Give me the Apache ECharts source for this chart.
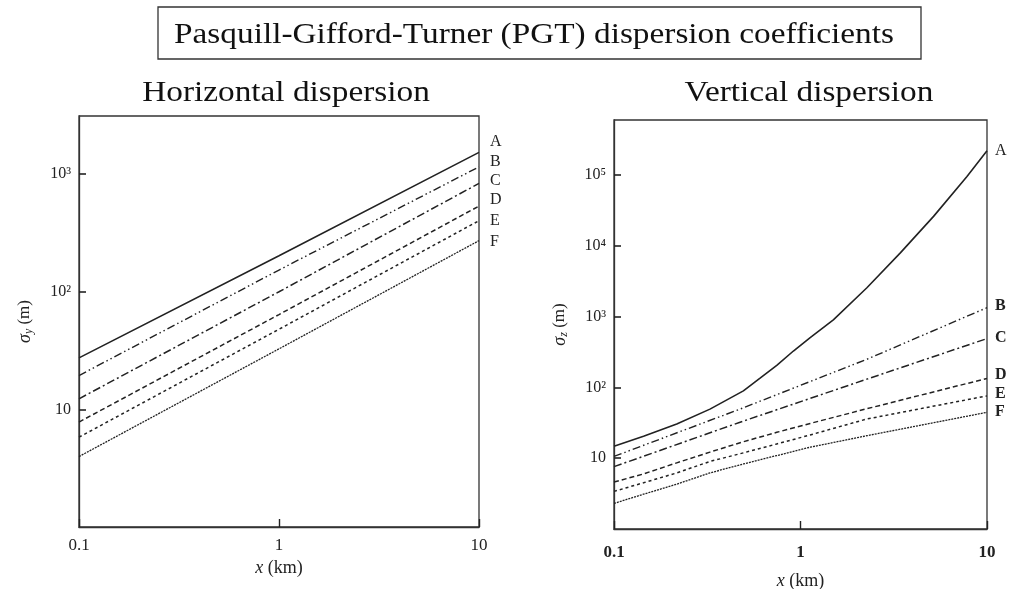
<!DOCTYPE html>
<html>
<head>
<meta charset="utf-8">
<script src="https://cdn.jsdelivr.net/npm/echarts@6/dist/echarts.min.js"></script>
<style>
html,body{margin:0;padding:0;background:#fff;}
#chart{width:1023px;height:589px;}
</style>
</head>
<body>
<div id="chart"></div>
<script>
// ---- data ----
const classes = ['A', 'B', 'C', 'D', 'E', 'F'];
const xTickLabels = ['0.1', '1', '10'];
const mainTitle = 'Pasquill-Gifford-Turner (PGT) dispersion coefficients';
const panelTitles = ['Horizontal dispersion', 'Vertical dispersion'];

// Horizontal dispersion sigma_y (m) vs x (km)
const hX = [0.1, 1, 10];
const hA = [27.4, 202, 1530];
const hB = [19.4, 153, 1153];
const hC = [12.3, 100, 834];
const hD = [7.8, 64, 535];
const hE = [5.8, 48, 402];
const hF = [3.97, 32.7, 272];

// Vertical dispersion sigma_z (m) vs x (km)
const vXA = [0.1, 0.144, 0.217, 0.327, 0.494, 0.607, 0.746, 0.916, 1.127, 1.5, 2.27, 3.43, 5.17, 7.81, 10];
const vA = [14.8, 20.4, 30.4, 49.4, 89.5, 135, 205, 327, 506, 900, 2560, 7960, 26100, 95500, 220000];
const vXBC = [0.1, 0.47, 2.27, 10];
const vB = [10.6, 49, 250, 1340];
const vC = [7.6, 32, 131, 490];
const vXDEF = [0.1, 0.144, 0.217, 0.327, 0.494, 0.746, 1.127, 2.27, 10];
const vD = [4.6, 6.0, 8.6, 12.2, 17.1, 23.2, 31, 50, 134];
const vE = [3.4, 4.5, 6.2, 9.0, 11.9, 15.9, 21.3, 35.8, 76];
const vF = [2.3, 3.1, 4.3, 6.2, 8.3, 10.9, 14.3, 20.8, 44.5];

// ---- styles ----
const FONT = '"Liberation Serif", "DejaVu Serif", serif';
const INK = '#222';
const dashes = {
  A: 'solid',
  B: [8, 3, 1.5, 3, 1.5, 3],
  C: [8, 3, 2, 3],
  D: [5, 3],
  E: [3, 3],
  F: [2, 1]
};
const widths = {A: 1.6, B: 1.4, C: 1.5, D: 1.5, E: 1.5, F: 1.3};
const hLabelOffset = {A: -11, B: -5, C: -3, D: -6, E: 0, F: 1};
const vLabelOffset = {A: 0, B: -2, C: -1, D: -4, E: -2, F: 0};

const supMap = {2: '\u00B2', 3: '\u00B3', 4: '\u2074', 5: '\u2075'};
function yFmt(v) {
  const l = Math.log10(v);
  const n = Math.round(l);
  if (Math.abs(l - n) > 0.01) return '';
  if (n <= 0) return '';
  if (n === 1) return '10';
  return '10' + supMap[n];
}
function xFmt(v) {
  const l = Math.log10(v);
  const n = Math.round(l);
  if (Math.abs(l - n) > 0.01) return '';
  return xTickLabels[n + 1] || '';
}

function pairs(xs, ys) { return xs.map((x, i) => [x, ys[i]]); }

const hData = {A: hA, B: hB, C: hC, D: hD, E: hE, F: hF};
const vData = {A: vA, B: vB, C: vC, D: vD, E: vE, F: vF};
const vXs = {A: vXA, B: vXBC, C: vXBC, D: vXDEF, E: vXDEF, F: vXDEF};

const series = [];
classes.forEach(c => {
  series.push({
    name: c, type: 'line', xAxisIndex: 0, yAxisIndex: 0,
    data: pairs(hX, hData[c]), showSymbol: false, symbol: 'none',
    lineStyle: {color: INK, width: widths[c], type: dashes[c]},
    endLabel: {show: true, formatter: c, distance: 11, offset: [0, hLabelOffset[c]],
      fontFamily: FONT, fontSize: 16, color: '#222'},
    silent: true, animation: false
  });
});
classes.forEach(c => {
  series.push({
    name: c + '_v', type: 'line', xAxisIndex: 1, yAxisIndex: 1,
    data: pairs(vXs[c], vData[c]), showSymbol: false, symbol: 'none',
    smooth: false,
    lineStyle: {color: INK, width: widths[c], type: dashes[c]},
    endLabel: {show: true, formatter: c, distance: 8, offset: [0, vLabelOffset[c]],
      fontFamily: FONT, fontSize: 16, fontWeight: c === 'A' ? 'normal' : 'bold', color: '#222'},
    silent: true, animation: false
  });
});

function xAxisCfg(gi, bold, nameGap, margin) {
  return {
    type: 'log', logBase: 10, min: 0.1, max: 10, gridIndex: gi,
    name: '{i|x} (km)', nameLocation: 'middle', nameGap: nameGap,
    nameTextStyle: {fontFamily: FONT, fontSize: 18, color: '#222',
      rich: {i: {fontStyle: 'italic', fontFamily: FONT, fontSize: 18, color: '#222'}}},
    axisLine: {show: true, lineStyle: {color: '#333', width: 1.3}},
    axisTick: {show: true, inside: true, length: 8, lineStyle: {color: '#222', width: 1.4}},
    minorTick: {show: false},
    splitLine: {show: false},
    axisLabel: {formatter: xFmt, fontFamily: FONT, fontSize: 17, color: '#222', margin: margin,
      fontWeight: bold ? 'bold' : 'normal'}
  };
}
function yAxisCfg(gi, max, sub) {
  return {
    type: 'log', logBase: 10, min: 1, max: max, gridIndex: gi,
    name: '{i|\u03C3}{s|' + sub + '} (m)', nameLocation: 'middle', nameGap: 44,
    nameTextStyle: {fontFamily: FONT, fontSize: 17, color: '#222',
      rich: {
        i: {fontStyle: 'italic', fontFamily: FONT, fontSize: 18, color: '#222'},
        s: {fontStyle: 'italic', fontFamily: FONT, fontSize: 12, color: '#222', padding: [8, 0, 0, 0]}
      }},
    axisLine: {show: true, lineStyle: {color: '#333', width: 1.3}},
    axisTick: {show: true, inside: true, length: 7, lineStyle: {color: '#222', width: 1.6}},
    minorTick: {show: false},
    splitLine: {show: false},
    axisLabel: {formatter: yFmt, fontFamily: FONT, fontSize: 16, color: '#222', margin: 8,
      showMinLabel: false, showMaxLabel: false}
  };
}

function headText(text, x, y) {
  return {
    type: 'text', x: x, y: y, scaleX: 1.11, silent: true,
    style: {text: text, font: '30px ' + FONT, fill: '#111', textAlign: 'center', textVerticalAlign: 'middle'}
  };
}

const option = {
  backgroundColor: '#fff',
  animation: false,
  graphic: [
    {type: 'rect', silent: true, shape: {x: 158, y: 7, width: 763, height: 52},
      style: {fill: 'none', stroke: '#333', lineWidth: 1.3}},
    headText(mainTitle, 534, 35),
    headText(panelTitles[0], 286, 93),
    headText(panelTitles[1], 809, 93)
  ],
  grid: [
    {left: 79, top: 116, width: 400, height: 411, show: true, borderColor: '#333', borderWidth: 1.3,
      backgroundColor: 'transparent', containLabel: false, outerBoundsMode: 'none'},
    {left: 614, top: 120, width: 373, height: 409, show: true, borderColor: '#333', borderWidth: 1.3,
      backgroundColor: 'transparent', containLabel: false, outerBoundsMode: 'none'}
  ],
  xAxis: [xAxisCfg(0, false, 30, 10), xAxisCfg(1, true, 43, 15)],
  yAxis: [yAxisCfg(0, 3120, 'y'), yAxisCfg(1, 600000, 'z')],
  series: series
};

const chart = echarts.init(document.getElementById('chart'), null, {renderer: 'canvas'});
chart.setOption(option);
</script>
</body>
</html>
